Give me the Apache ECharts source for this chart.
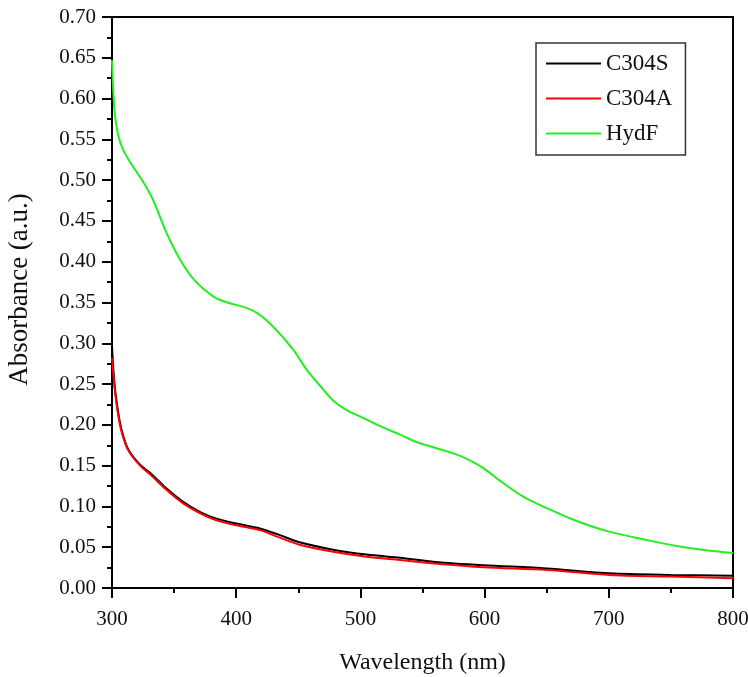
<!DOCTYPE html>
<html>
<head>
<meta charset="utf-8">
<script src="https://cdn.jsdelivr.net/npm/echarts@6/dist/echarts.min.js"></script>
<style>html,body{margin:0;padding:0;background:#fff;}#c{width:748px;height:677px;}</style>
</head>
<body>
<div id="c"></div>
<script>
const seriesNames = ['C304S', 'C304A', 'HydF'];
const xTickLabels = ['300', '400', '500', '600', '700', '800'];
const yTickLabels = ['0.00','0.05','0.10','0.15','0.20','0.25','0.30','0.35','0.40','0.45','0.50','0.55','0.60','0.65','0.70'];

const wlHydF = [300,302,305,309,315,325,333,344,355,366,382,395,405,417,430,446,457,468,478,489,500,515,532,545,560,575,586,599,612,631,650,671,698,730,757,780,800];
const absHydF = [0.647,0.585,0.555,0.537,0.521,0.498,0.476,0.435,0.402,0.378,0.357,0.349,0.345,0.337,0.320,0.292,0.267,0.247,0.230,0.218,0.210,0.199,0.188,0.179,0.172,0.165,0.158,0.147,0.132,0.112,0.098,0.084,0.070,0.059,0.051,0.046,0.043];

const wlC304 = [300,302,305,308,313,322,333,344,357,371,384,400,419,433,451,478,505,532,560,599,650,701,750,800];
const absC304S = [0.296,0.250,0.215,0.192,0.170,0.152,0.138,0.122,0.106,0.093,0.085,0.079,0.073,0.066,0.056,0.047,0.041,0.037,0.032,0.028,0.024,0.018,0.016,0.015];
const absC304A = [0.282,0.247,0.212,0.190,0.169,0.151,0.136,0.120,0.104,0.0916,0.083,0.077,0.071,0.063,0.053,0.0445,0.0384,0.0343,0.030,0.0254,0.022,0.016,0.014,0.012];

const pairs = (xs, ys) => xs.map((x, i) => [x, ys[i]]);
const FONT = "'Liberation Serif','Times New Roman',serif";

const chart = echarts.init(document.getElementById('c'));
chart.setOption({
  backgroundColor: '#fff',
  animation: false,
  grid: { left: 112, right: 15, top: 17, bottom: 89, outerBoundsMode: 'none', containLabel: false,
    show: true, borderColor: '#000', borderWidth: 2, backgroundColor: 'transparent' },
  legend: {
    orient: 'vertical', left: 536, top: 43,
    data: seriesNames,
    icon: 'rect', itemWidth: 55, itemHeight: 2, itemGap: 12,
    padding: [9, 13, 10, 10],
    borderColor: '#333', borderWidth: 1.5,
    textStyle: { fontFamily: FONT, fontSize: 23, color: '#111', lineHeight: 22 }
  },
  xAxis: {
    type: 'value', min: 300, max: 800, interval: 100,
    name: 'Wavelength (nm)', nameLocation: 'middle', nameGap: 63,
    nameTextStyle: { fontFamily: FONT, fontSize: 24, color: '#111' },
    axisLine: { lineStyle: { color: '#000', width: 2 } },
    axisTick: { show: true, length: 10, lineStyle: { color: '#000', width: 2 } },
    minorTick: { show: true, splitNumber: 2, length: 5, lineStyle: { color: '#000', width: 2 } },
    splitLine: { show: false },
    axisLabel: { fontFamily: FONT, fontSize: 21, color: '#111', margin: 21,
      formatter: v => xTickLabels[Math.round((v - 300) / 100)] }
  },
  yAxis: {
    type: 'value', min: 0, max: 0.7, interval: 0.05,
    name: 'Absorbance (a.u.)', nameLocation: 'middle', nameGap: 79,
    nameTextStyle: { fontFamily: FONT, fontSize: 27, color: '#111', padding: [0, 0, 0, 26] },
    axisLine: { show: true, lineStyle: { color: '#000', width: 2 } },
    axisTick: { show: true, length: 10, lineStyle: { color: '#000', width: 2 } },
    minorTick: { show: true, splitNumber: 2, length: 5, lineStyle: { color: '#000', width: 2 } },
    splitLine: { show: false },
    axisLabel: { fontFamily: FONT, fontSize: 21, color: '#111', margin: 16,
      formatter: v => yTickLabels[Math.round(v / 0.05)] }
  },
  series: [
    { name: seriesNames[0], type: 'line', data: pairs(wlC304, absC304S), showSymbol: false, symbol: 'none', smooth: 0.3,
      lineStyle: { color: '#000', width: 2 }, itemStyle: { color: '#000' }, z: 3 },
    { name: seriesNames[1], type: 'line', data: pairs(wlC304, absC304A), showSymbol: false, symbol: 'none', smooth: 0.3,
      lineStyle: { color: '#ff0000', width: 2 }, itemStyle: { color: '#ff0000' }, z: 4 },
    { name: seriesNames[2], type: 'line', data: pairs(wlHydF, absHydF), showSymbol: false, symbol: 'none', smooth: 0.3,
      lineStyle: { color: '#22ee22', width: 2 }, itemStyle: { color: '#22ee22' }, z: 2 }
  ]
});
</script>
</body>
</html>
